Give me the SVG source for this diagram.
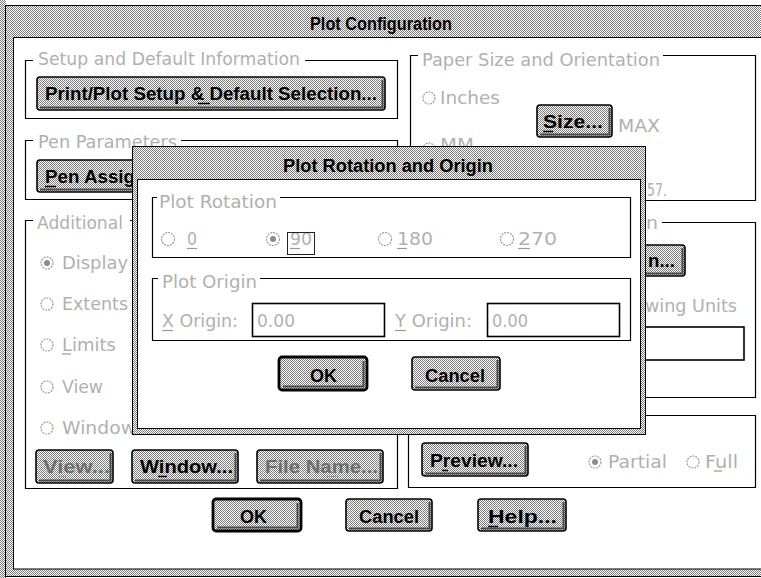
<svg xmlns="http://www.w3.org/2000/svg" width="761" height="578" viewBox="0 0 761 578">
<defs>
<pattern id="dither" width="2" height="2" patternUnits="userSpaceOnUse">
<rect width="2" height="2" fill="#ffffff"/>
<rect x="0" y="0" width="1" height="1" fill="#7c7c7c"/>
<rect x="1" y="1" width="1" height="1" fill="#7c7c7c"/>
</pattern>
<clipPath id="aboveSub"><rect x="400" y="130" width="120" height="16.5"/></clipPath>
</defs>
<style>
.hatch{fill:url(#dither);stroke:#000;stroke-width:1}
.client{fill:#fff;stroke:#000;stroke-width:1}
.grp{fill:none;stroke:#000;stroke-width:1.2}
.btn{fill:url(#dither);stroke:#000;stroke-width:1.6}
.btn-def{fill:url(#dither);stroke:#000;stroke-width:2.8}
.shadow{fill:none;stroke:#4a4a4a;stroke-width:2}
.edit{fill:#fff;stroke:#000;stroke-width:1.6}
.radio{fill:#fff;stroke:#9a9a9a;stroke-width:1.2;stroke-dasharray:2 1}
.dot{fill:#8c8c8c}
.ttl{font-family:"Liberation Sans Narrow","Liberation Sans",Arial,sans-serif;font-weight:bold;font-size:18px;fill:#000}
.bt{font-family:"Liberation Sans Narrow","Liberation Sans",Arial,sans-serif;font-weight:bold;font-size:17.5px;fill:#000}
.bd{font-family:"Liberation Sans Narrow","Liberation Sans",Arial,sans-serif;font-weight:bold;font-size:17.5px;fill:#6e6e6e}
.gt{font-family:"DejaVu Sans","Liberation Sans",sans-serif;font-size:18px;fill:#b0b0b0}
.ul{stroke:#000;stroke-width:1.5}
.ulg{stroke:#9a9a9a;stroke-width:1.2}
.focus{fill:none;stroke:#222;stroke-width:1}
</style>

<!-- desktop strip and main dialog frame -->
<g id="main-dialog">
<rect x="0" y="0" width="6" height="578" fill="url(#dither)"/>
<rect class="hatch" x="5.5" y="5.5" width="760" height="571"/>
<rect class="client" x="13.5" y="37.5" width="750" height="531.5"/>
<text class="ttl" x="310" y="30" textLength="142" lengthAdjust="spacingAndGlyphs">Plot Configuration</text>
</g>

<!-- Setup and Default Information -->
<g id="setup-group">
<path class="grp" d="M33 60.5 H25.5 V118.5 H397.5 V60.5 H305"/>
<text class="gt" x="38" y="65" textLength="262" lengthAdjust="spacingAndGlyphs">Setup and Default Information</text>
<g id="btn-setup">
<rect class="btn" x="37" y="77" width="348" height="33" rx="3"/>
<path class="shadow" d="M40 107.5 H382.5 V80"/>
<text class="bt" x="45" y="100" textLength="332" lengthAdjust="spacingAndGlyphs">Print/Plot Setup &amp; Default Selection...</text>
<line class="ul" x1="198" y1="103.5" x2="210" y2="103.5"/>
</g>
</g>

<!-- Pen Parameters -->
<g id="pen-group">
<path class="grp" d="M33 140.5 H25.5 V199.5 H397.5 V140.5 H181"/>
<text class="gt" x="38" y="148" textLength="139" lengthAdjust="spacingAndGlyphs">Pen Parameters</text>
<g id="btn-pen">
<rect class="btn" x="37" y="160" width="200" height="32" rx="3"/>
<path class="shadow" d="M40 189.5 H234.5 V163"/>
<text class="bt" x="45" y="183" textLength="90" lengthAdjust="spacingAndGlyphs">Pen Assig</text>
<line class="ul" x1="45" y1="186.5" x2="56" y2="186.5"/>
</g>
</g>

<!-- Additional Parameters -->
<g id="additional-group">
<path class="grp" d="M33 220.5 H25.5 V488.5 H397.5 V220.5 H130"/>
<text class="gt" x="37" y="229" textLength="86" lengthAdjust="spacingAndGlyphs">Additional</text>
<circle class="radio" cx="47" cy="263" r="6"/><circle class="dot" cx="47" cy="263" r="3"/>
<text class="gt" x="62" y="269" textLength="66" lengthAdjust="spacingAndGlyphs">Display</text>
<circle class="radio" cx="47" cy="304" r="6"/>
<text class="gt" x="62" y="310" textLength="66" lengthAdjust="spacingAndGlyphs">Extents</text>
<circle class="radio" cx="47" cy="345" r="6"/>
<text class="gt" x="62" y="351" textLength="54" lengthAdjust="spacingAndGlyphs">Limits</text>
<line class="ulg" x1="62" y1="354" x2="71" y2="354"/>
<circle class="radio" cx="47" cy="387" r="6"/>
<text class="gt" x="62" y="393" textLength="41" lengthAdjust="spacingAndGlyphs">View</text>
<circle class="radio" cx="47" cy="428" r="6"/>
<text class="gt" x="62" y="434" textLength="74" lengthAdjust="spacingAndGlyphs">Window</text>
<g id="btn-view">
<rect class="btn" x="36" y="450" width="77" height="33" rx="3"/>
<path class="shadow" d="M39 480.5 H110.5 V453"/>
<text class="bd" x="43" y="473" textLength="67" lengthAdjust="spacingAndGlyphs">View...</text>
<line class="ulg" x1="59" y1="476.5" x2="67" y2="476.5"/>
</g>
<g id="btn-window">
<rect class="btn" x="132" y="450" width="106" height="33" rx="3"/>
<path class="shadow" d="M135 480.5 H235.5 V453"/>
<text class="bt" x="140" y="473" textLength="93" lengthAdjust="spacingAndGlyphs">Window...</text>
<line class="ul" x1="158" y1="476.5" x2="167" y2="476.5"/>
</g>
<g id="btn-filename">
<rect class="btn" x="257" y="450" width="126" height="33" rx="3"/>
<path class="shadow" d="M260 480.5 H380.5 V453"/>
<text class="bd" x="265" y="473" textLength="113" lengthAdjust="spacingAndGlyphs">File Name...</text>
<line class="ulg" x1="327" y1="476.5" x2="338" y2="476.5"/>
</g>
</g>

<!-- Paper Size and Orientation -->
<g id="paper-group">
<path class="grp" d="M418 55.5 H410.5 V200.5 H755.5 V55.5 H663"/>
<text class="gt" x="422" y="66" textLength="238" lengthAdjust="spacingAndGlyphs">Paper Size and Orientation</text>
<circle class="radio" cx="429" cy="98" r="6"/>
<text class="gt" x="440" y="104" textLength="60" lengthAdjust="spacingAndGlyphs">Inches</text>
<g id="btn-size">
<rect class="btn" x="537" y="105" width="75" height="32" rx="3"/>
<path class="shadow" d="M540 134.5 H609.5 V108"/>
<text class="bt" x="543" y="128" textLength="60" lengthAdjust="spacingAndGlyphs">Size...</text>
<line class="ul" x1="543" y1="131.5" x2="553" y2="131.5"/>
</g>
<text class="gt" x="618" y="132" textLength="42" lengthAdjust="spacingAndGlyphs">MAX</text>
<g clip-path="url(#aboveSub)">
<circle class="radio" cx="429" cy="149" r="6"/><circle class="dot" cx="429" cy="149" r="3"/>
<text class="gt" x="440" y="151" textLength="34" lengthAdjust="spacingAndGlyphs">MM</text>
</g>
<text class="gt" x="647" y="196" textLength="20" lengthAdjust="spacingAndGlyphs">57.</text>
</g>

<!-- Rotation and Origin (main) -->
<g id="rotation-group">
<path class="grp" d="M418 222.5 H410.5 V397.5 H755.5 V222.5 H662"/>
<text class="gt" x="646" y="229" textLength="12" lengthAdjust="spacingAndGlyphs">n</text>
<g id="btn-rotation">
<rect class="btn" x="560" y="245" width="125" height="31" rx="3"/>
<path class="shadow" d="M563 273.5 H682.5 V248"/>
<text class="bt" x="648" y="267" textLength="27" lengthAdjust="spacingAndGlyphs">n...</text>
</g>
<text class="gt" x="645" y="312" textLength="92" lengthAdjust="spacingAndGlyphs">wing Units</text>
<rect class="edit" x="560" y="327" width="184" height="33"/>
</g>

<!-- Plot Preview -->
<g id="preview-group">
<path class="grp" d="M416 415.5 H408.5 V487.5 H755.5 V415.5 H600"/>
<g id="btn-preview">
<rect class="btn" x="422" y="443" width="106" height="33" rx="3"/>
<path class="shadow" d="M425 473.5 H525.5 V446"/>
<text class="bt" x="430" y="467" textLength="88" lengthAdjust="spacingAndGlyphs">Preview...</text>
<line class="ul" x1="442" y1="470.5" x2="448" y2="470.5"/>
</g>
<circle class="radio" cx="595" cy="462" r="6"/><circle class="dot" cx="595" cy="462" r="3"/>
<text class="gt" x="608" y="468" textLength="59" lengthAdjust="spacingAndGlyphs">Partial</text>
<circle class="radio" cx="693" cy="462" r="6"/>
<text class="gt" x="705" y="468" textLength="33" lengthAdjust="spacingAndGlyphs">Full</text>
<line class="ulg" x1="714" y1="471" x2="722" y2="471"/>
</g>

<!-- main dialog buttons -->
<g id="btn-main-ok">
<rect class="btn-def" x="213" y="499" width="88" height="32" rx="3"/>
<path class="shadow" d="M217 527.5 H297.5 V503"/>
<text class="bt" x="240" y="523" textLength="27" lengthAdjust="spacingAndGlyphs">OK</text>
</g>
<g id="btn-main-cancel">
<rect class="btn" x="346" y="499" width="86" height="32" rx="3"/>
<path class="shadow" d="M349 528.5 H429.5 V502"/>
<text class="bt" x="359" y="523" textLength="60" lengthAdjust="spacingAndGlyphs">Cancel</text>
</g>
<g id="btn-main-help">
<rect class="btn" x="478" y="499" width="88" height="32" rx="3"/>
<path class="shadow" d="M481 528.5 H563.5 V502"/>
<text class="bt" x="488" y="523" textLength="69" lengthAdjust="spacingAndGlyphs">Help...</text>
<line class="ul" x1="488" y1="526.5" x2="498" y2="526.5"/>
</g>

<!-- Plot Rotation and Origin sub dialog -->
<g id="sub-dialog">
<rect class="hatch" x="132.5" y="146.5" width="513" height="288"/>
<rect class="client" x="137.5" y="179.5" width="503" height="249"/>
<text class="ttl" x="283" y="172" textLength="210" lengthAdjust="spacingAndGlyphs">Plot Rotation and Origin</text>
</g>

<g id="plot-rotation-group">
<path class="grp" d="M157 197.5 H152.5 V257.5 H630.5 V197.5 H280"/>
<text class="gt" x="159" y="208" textLength="118" lengthAdjust="spacingAndGlyphs">Plot Rotation</text>
<circle class="radio" cx="168" cy="239" r="6.5"/>
<text class="gt" x="187" y="245" textLength="10" lengthAdjust="spacingAndGlyphs">0</text>
<line class="ulg" x1="187" y1="248.5" x2="197" y2="248.5"/>
<circle class="radio" cx="273" cy="239" r="6.5"/><circle class="dot" cx="273" cy="239" r="3"/>
<text class="gt" x="290" y="245" textLength="22" lengthAdjust="spacingAndGlyphs">90</text>
<line class="ulg" x1="290" y1="248.5" x2="300" y2="248.5"/>
<rect class="focus" x="287.5" y="232.5" width="27" height="22"/>
<circle class="radio" cx="385" cy="239" r="6.5"/>
<text class="gt" x="397" y="245" textLength="36" lengthAdjust="spacingAndGlyphs">180</text>
<line class="ulg" x1="397" y1="248.5" x2="407" y2="248.5"/>
<circle class="radio" cx="507" cy="239" r="6.5"/>
<text class="gt" x="518" y="245" textLength="39" lengthAdjust="spacingAndGlyphs">270</text>
<line class="ulg" x1="518" y1="248.5" x2="530" y2="248.5"/>
</g>

<g id="plot-origin-group">
<path class="grp" d="M158 278.5 H152.5 V340.5 H630.5 V278.5 H260"/>
<text class="gt" x="162" y="288" textLength="95" lengthAdjust="spacingAndGlyphs">Plot Origin</text>
<text class="gt" x="162" y="327" textLength="76" lengthAdjust="spacingAndGlyphs">X Origin:</text>
<line class="ulg" x1="162" y1="330.5" x2="173" y2="330.5"/>
<rect class="edit" x="252.5" y="303.5" width="132" height="33"/>
<text class="gt" x="257" y="327" textLength="38" lengthAdjust="spacingAndGlyphs">0.00</text>
<text class="gt" x="395" y="327" textLength="77" lengthAdjust="spacingAndGlyphs">Y Origin:</text>
<line class="ulg" x1="395" y1="330.5" x2="406" y2="330.5"/>
<rect class="edit" x="487.5" y="303.5" width="132" height="33"/>
<text class="gt" x="492" y="327" textLength="36" lengthAdjust="spacingAndGlyphs">0.00</text>
</g>

<g id="btn-sub-ok">
<rect class="btn-def" x="279" y="357" width="88" height="33" rx="3"/>
<path class="shadow" d="M283 386.5 H363.5 V361"/>
<text class="bt" x="310" y="382" textLength="27" lengthAdjust="spacingAndGlyphs">OK</text>
</g>
<g id="btn-sub-cancel">
<rect class="btn" x="412" y="357" width="88" height="33" rx="3"/>
<path class="shadow" d="M415 387.5 H497.5 V360"/>
<text class="bt" x="425" y="382" textLength="60" lengthAdjust="spacingAndGlyphs">Cancel</text>
</g>
</svg>
